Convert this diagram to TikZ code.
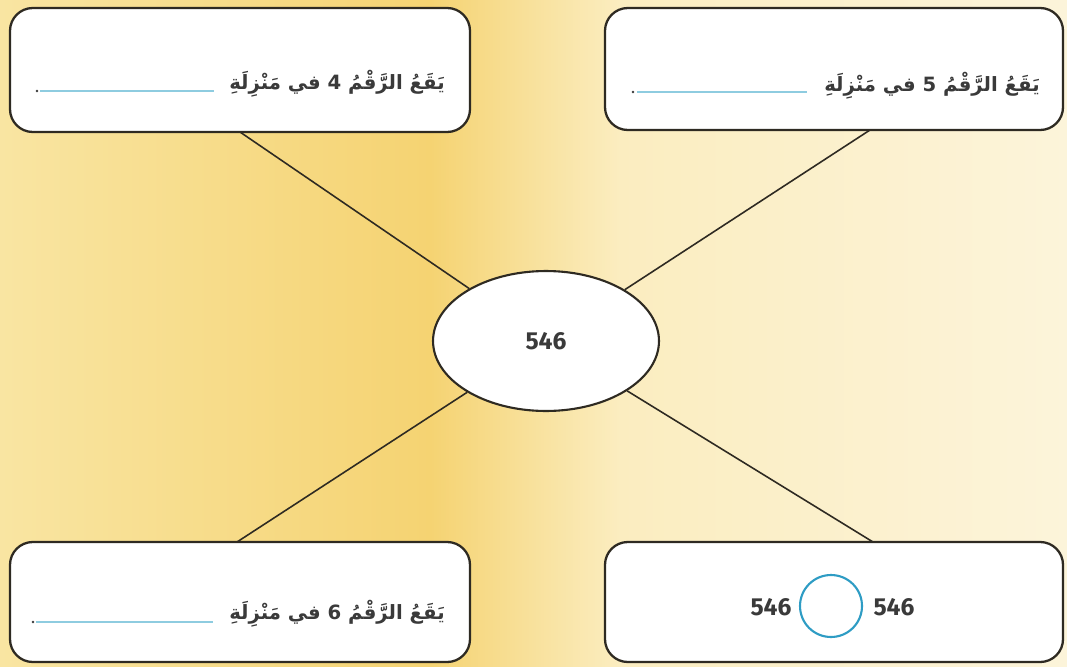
\documentclass[tikz,border=0pt]{standalone}
\usepackage{fontspec}
\newfontfamily\arabicfont[Script=Arabic]{DejaVu Sans}
\newfontfamily\numfont{Fira Sans}
\TeXXeTstate=1
\usetikzlibrary{shapes.geometric}
\definecolor{bgA}{HTML}{F9E5A2}
\definecolor{bgB}{HTML}{F5D372}
\definecolor{bgC}{HTML}{FBEDC0}
\definecolor{bgD}{HTML}{FCF4DA}
\definecolor{edge}{HTML}{2E2A22}
\definecolor{blank}{HTML}{8ECCE0}
\definecolor{ring}{HTML}{2E9CC4}
\definecolor{txt}{HTML}{3A3A3A}
\tikzset{
  card/.style={draw=edge, line width=1.3pt, fill=white, rounded corners=13pt},
  spoke/.style={draw=edge, line width=0.9pt},
  sentence/.style={anchor=east, text=txt, font=\arabicfont\bfseries\fontsize{11.2}{13}\selectfont, inner sep=0pt},
  numtxt/.style={text=txt, font=\numfont\bfseries\fontsize{14}{16}\selectfont, inner sep=0pt},
  blankline/.style={draw=blank, line width=1.2pt},
}
\begin{document}
\begin{tikzpicture}[x=0.02cm, y=-0.02cm]
\useasboundingbox (0,0) rectangle (1067,666);
% background
\shade[left color=bgA, right color=bgB] (0,0) rectangle (430,666);
\shade[left color=bgB, right color=bgC] (430,0) rectangle (620,666);
\shade[left color=bgC, right color=bgD] (620,0) rectangle (1067,666);
% center
\node[ellipse, draw=edge, line width=1.2pt, fill=white, inner sep=0pt,
      minimum width=4.52cm, minimum height=2.8cm] (ell) at (546,341) {};
% cards
\draw[card] (10,8) rectangle (470,132);
\draw[card] (605,8) rectangle (1063,130);
\draw[card] (10,542) rectangle (470,662);
\draw[card] (605,542) rectangle (1063,662);
\coordinate (tl) at (240,132);
\coordinate (tr) at (870,130);
\coordinate (bl) at (237,542);
\coordinate (br) at (873,542);
\path[spoke] (tl) -- (ell);
\path[spoke] (tr) -- (ell);
\path[spoke] (bl) -- (ell);
\path[spoke] (br) -- (ell);
\node[numtxt] (c) at (ell.center) {546};
% texts
\node[sentence] (t1) at (445,84) {\beginR يَقَعُ الرَّقْمُ 4 في مَنْزِلَةِ\endR};
\node[sentence] (t2) at (1040,86) {\beginR يَقَعُ الرَّقْمُ 5 في مَنْزِلَةِ\endR};
\node[sentence] (t3) at (445,614) {\beginR يَقَعُ الرَّقْمُ 6 في مَنْزِلَةِ\endR};
\draw[blankline] (40,91) -- (214,91);
\draw[blankline] (637,92) -- (807,92);
\draw[blankline] (36,622) -- (213,622);
\fill[txt] (37,91) circle (1.3);
\fill[txt] (633,92) circle (1.3);
\fill[txt] (33,622) circle (1.3);
% comparison
\node[draw=ring, line width=1.2pt, circle, minimum size=1.24cm, inner sep=0pt] (cmp) at (831,606) {};
\node[numtxt] (n1) at (771,607) {546};
\node[numtxt] (n2) at (894,607) {546};
\end{tikzpicture}
\end{document}
